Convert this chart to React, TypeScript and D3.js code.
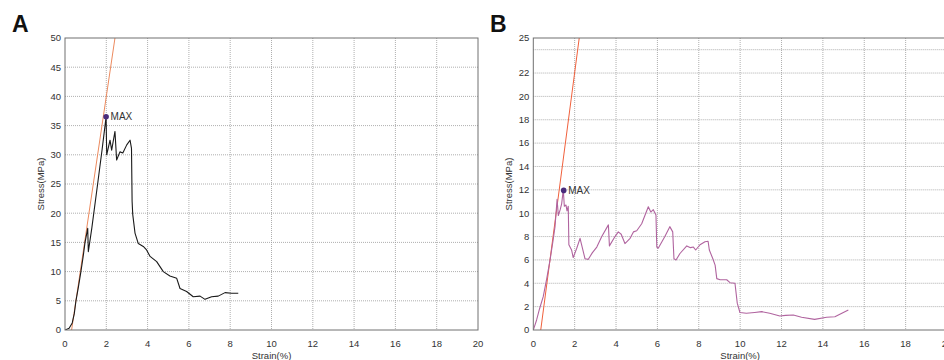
import * as d3 from 'd3'

// tick values
const xTicks = [0, 2, 4, 6, 8, 10, 12, 14, 16, 18, 20]
const yTicksA = [0, 5, 10, 15, 20, 25, 30, 35, 40, 45, 50]
const yGridA = [5, 10, 15, 20, 25, 30, 35, 40, 45]
const yTicksB = [0, 2, 4, 6, 8, 10, 12, 14, 16, 18, 20, 22, 25]
const yGridB = [2, 4, 6, 8, 10, 12, 14, 16, 18, 20, 22, 24]

// sample A: strain (%) / stress (MPa)
const strainA = [0, 0.2, 0.35, 0.45, 0.53, 0.65, 0.77, 0.88, 0.97, 1.1, 1.13, 1.3, 1.58, 1.8, 1.99, 2.02, 2.18, 2.26, 2.42, 2.5, 2.66, 2.8, 2.99, 3.15, 3.22, 3.25, 3.28, 3.39, 3.55, 3.79, 3.95, 4.12, 4.44, 4.76, 5.08, 5.41, 5.57, 5.89, 6.21, 6.54, 6.78, 7.1, 7.42, 7.75, 8.07, 8.39]
const stressA = [0, 0.3, 1.2, 2.8, 5, 7.4, 10, 12.6, 15, 17.4, 13.4, 17.5, 25, 31, 36.5, 30, 32.5, 30.8, 34, 29.1, 30.5, 30.3, 31.7, 32.5, 31.1, 22, 19.8, 16.6, 14.8, 14.3, 13.7, 12.6, 11.7, 10, 9.25, 8.85, 7.1, 6.6, 5.7, 5.8, 5.25, 5.7, 5.8, 6.4, 6.3, 6.3]
const maxA = [1.99, 36.5]
const fitStrainA = [0.32, 2.42]
const fitStressA = [0, 50]

// sample B
const strainB = [0, 0.16, 0.3, 0.48, 0.65, 0.81, 0.95, 1.05, 1.15, 1.21, 1.3, 1.37, 1.45, 1.5, 1.58, 1.63, 1.69, 1.72, 1.85, 1.93, 2.1, 2.26, 2.5, 2.66, 2.85, 3.07, 3.31, 3.63, 3.68, 3.95, 4.11, 4.25, 4.43, 4.68, 4.84, 5.0, 5.24, 5.56, 5.68, 5.8, 5.93, 5.97, 6.04, 6.36, 6.6, 6.74, 6.8, 6.9, 7.09, 7.42, 7.6, 7.74, 7.85, 8.06, 8.3, 8.45, 8.51, 8.68, 8.79, 8.87, 9.03, 9.35, 9.51, 9.75, 9.86, 9.99, 10.3, 10.7, 11.04, 11.43, 11.92, 12.2, 12.57, 12.97, 13.6, 14.18, 14.58, 15.23]
const stressB = [0, 0.86, 1.8, 2.85, 4.4, 6.0, 7.6, 8.85, 11.2, 9.8, 10.3, 10.8, 12.0, 10.6, 10.7, 10.2, 10.6, 7.3, 6.85, 6.2, 7.0, 7.85, 6.1, 6.05, 6.6, 7.1, 8.0, 9.0, 7.2, 8.0, 8.4, 8.2, 7.4, 7.85, 8.4, 8.5, 9.1, 10.55, 10.1, 10.3, 9.85, 7.1, 7.0, 8.0, 8.85, 8.4, 6.1, 6.0, 6.55, 7.2, 7.05, 7.1, 6.85, 7.3, 7.55, 7.6, 6.85, 6.1, 5.55, 4.4, 4.3, 4.3, 4.05, 4.0, 2.3, 1.5, 1.43, 1.5, 1.57, 1.43, 1.2, 1.25, 1.28, 1.09, 0.91, 1.09, 1.14, 1.71]
const maxB = [1.47, 11.95]
const fitStrainB = [0.36, 2.22]
const fitStressB = [0, 25]

const font = '"Liberation Sans", Arial, sans-serif'

interface PanelProps {
  id: string
  letter: string
  letterX: number
  left: number
  right: number
  yMax: number
  yTicks: number[]
  yGrid: number[]
  strain: number[]
  stress: number[]
  max: number[]
  fitStrain: number[]
  fitStress: number[]
  curveColor: string
  fitColor: string
}

function Panel(p: PanelProps) {
  const top = 38
  const bottom = 330
  const x = d3.scaleLinear().domain([0, 20]).range([p.left, p.right])
  const y = d3.scaleLinear().domain([0, p.yMax]).range([bottom, top])

  const line = d3.line<number>().x((_, i) => x(p.strain[i])).y(d => y(d))
  const fitLine = d3.line<number>().x((_, i) => x(p.fitStrain[i])).y(d => y(d))

  return (
    <g fontFamily={font}>
      <defs>
        <clipPath id={`clip-${p.id}`}>
          <rect x={p.left} y={top} width={p.right - p.left} height={bottom - top} />
        </clipPath>
      </defs>
      <text x={p.letterX} y={32} fontSize={23} fontWeight="bold" fill="#111">{p.letter}</text>

      {/* grid */}
      {xTicks.slice(1, -1).map(t => (
        <line key={'gx' + t} x1={x(t)} x2={x(t)} y1={top} y2={bottom}
          stroke="#9a9a9a" strokeWidth={0.8} strokeDasharray="1,1" />
      ))}
      {p.yGrid.map(t => (
        <line key={'gy' + t} x1={p.left} x2={p.right} y1={y(t)} y2={y(t)}
          stroke="#9a9a9a" strokeWidth={0.8} strokeDasharray="1,1" />
      ))}

      {/* curves */}
      <g clipPath={`url(#clip-${p.id})`}>
        <path d={fitLine(p.fitStress) ?? ''} fill="none" stroke={p.fitColor} strokeWidth={1} />
        <path d={line(p.stress) ?? ''} fill="none" stroke={p.curveColor} strokeWidth={1.1} strokeLinejoin="round" />
      </g>

      <rect x={p.left} y={top} width={p.right - p.left} height={bottom - top}
        fill="none" stroke="#707070" strokeWidth={1} />

      {/* max marker */}
      <circle cx={x(p.max[0])} cy={y(p.max[1])} r={2.8} fill="#4a2c7c" />
      <text x={x(p.max[0]) + 4.5} y={y(p.max[1]) + 3.5} fontSize={10} fill="#333">MAX</text>

      {/* axes labels */}
      {xTicks.map(t => (
        <text key={'tx' + t} x={x(t)} y={347} fontSize={9.5} fill="#333" textAnchor="middle">{t}</text>
      ))}
      {p.yTicks.map(t => (
        <text key={'ty' + t} x={p.left - 4} y={y(t) + 3.3} fontSize={9.5} fill="#333" textAnchor="end">{t}</text>
      ))}
      <text x={(p.left + p.right) / 2} y={359} fontSize={9.5} fill="#333" textAnchor="middle">Strain(%)</text>
      <text transform={`translate(${p.left - 21},${(top + bottom) / 2}) rotate(-90)`} fontSize={9.5}
        fill="#333" textAnchor="middle">Stress(MPa)</text>
    </g>
  )
}

export default function App() {
  return (
    <div style={{ position: 'absolute', left: 0, top: 0 }}>
      <svg width={944} height={360} style={{ display: 'block', background: '#fff' }}>
        <Panel id="a" letter="A" letterX={12} left={65} right={478} yMax={50} yTicks={yTicksA} yGrid={yGridA}
          strain={strainA} stress={stressA} max={maxA} fitStrain={fitStrainA} fitStress={fitStressA}
          curveColor="#1a1a1a" fitColor="#ec8a5e" />
        <Panel id="b" letter="B" letterX={490} left={533.3} right={947} yMax={25} yTicks={yTicksB} yGrid={yGridB}
          strain={strainB} stress={stressB} max={maxB} fitStrain={fitStrainB} fitStress={fitStressB}
          curveColor="#b0649f" fitColor="#f0603c" />
      </svg>
    </div>
  )
}
